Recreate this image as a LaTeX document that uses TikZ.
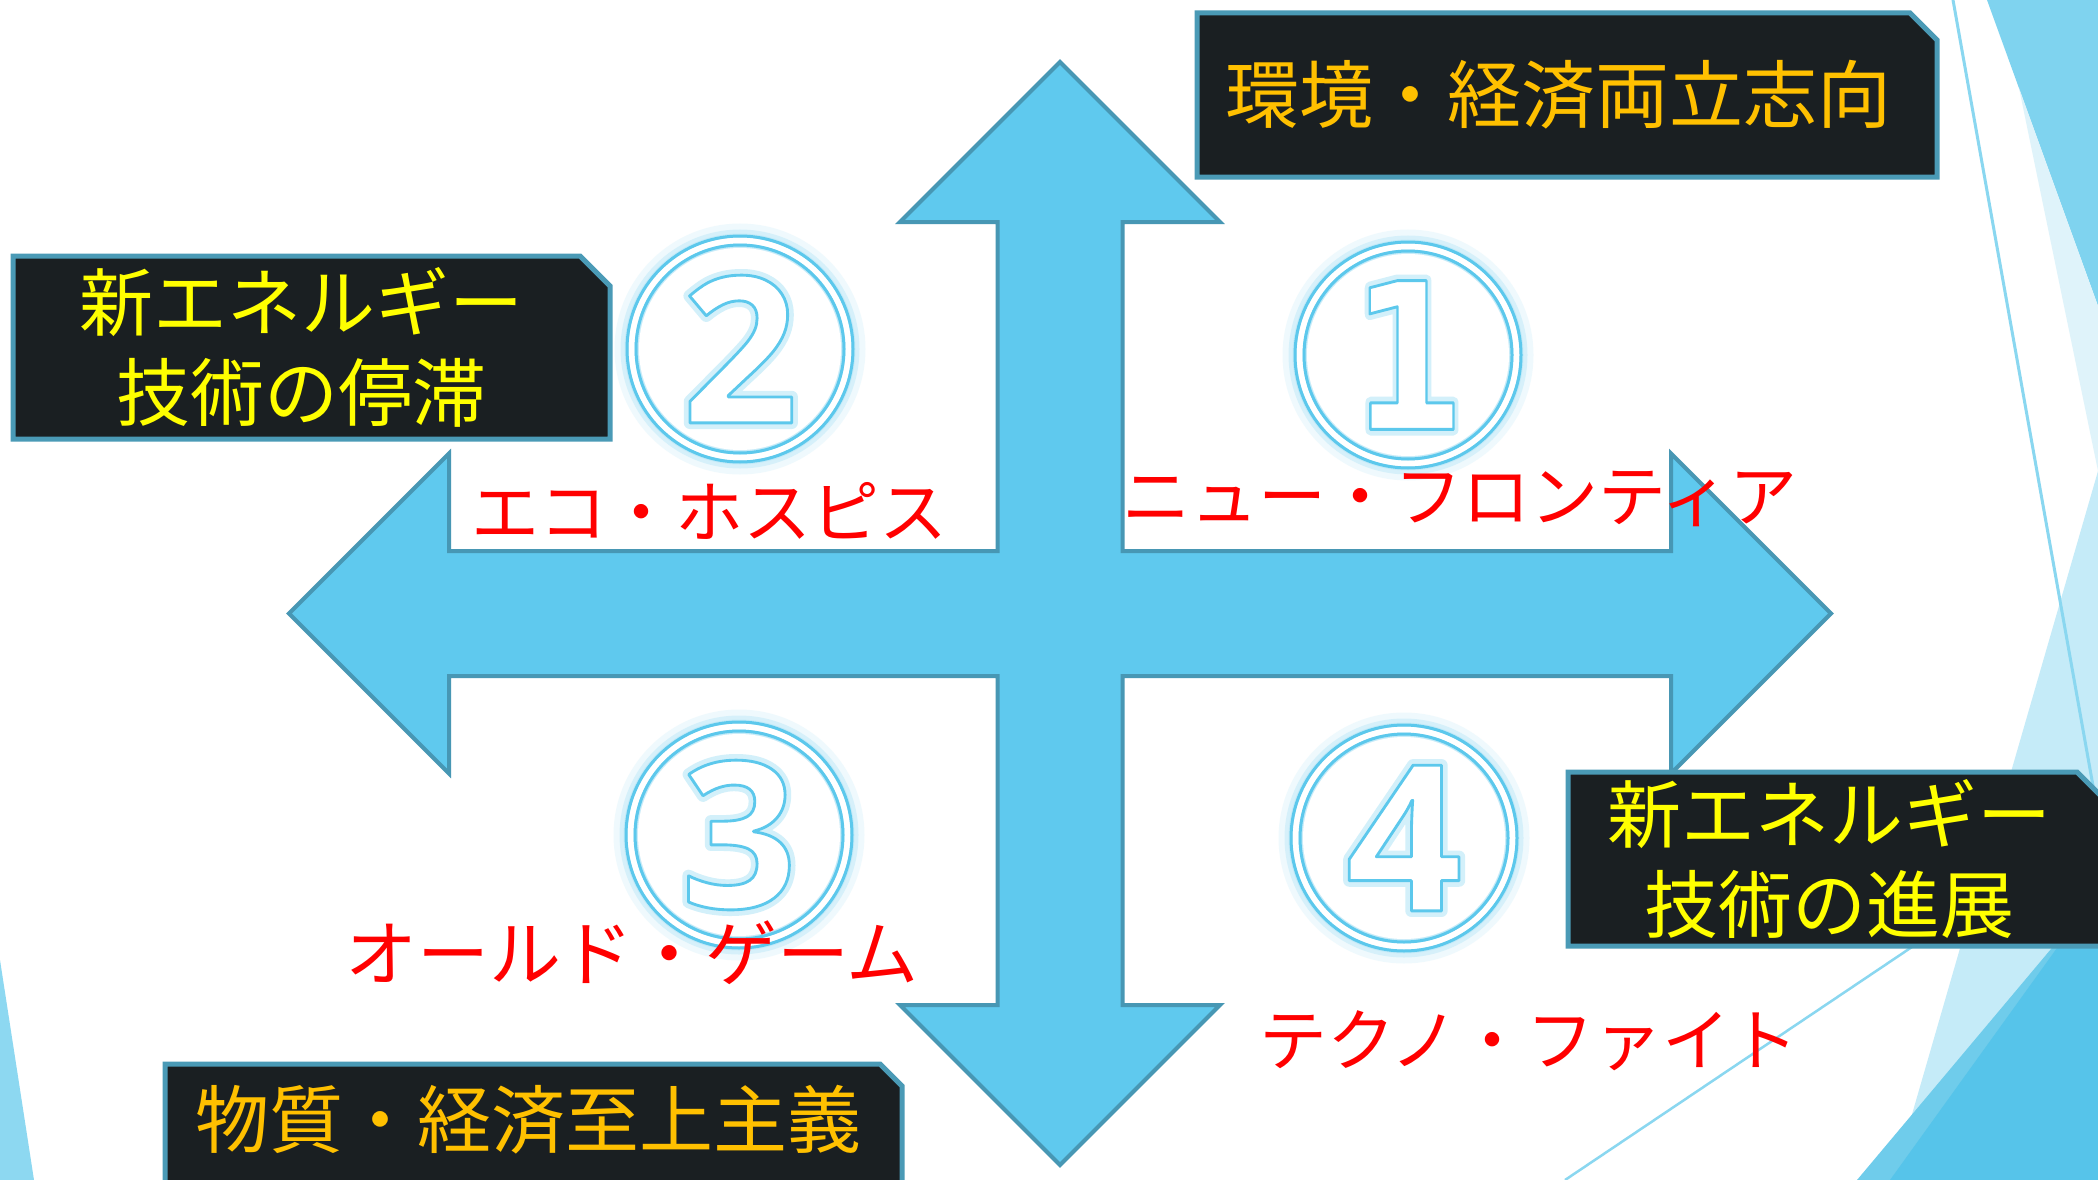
\documentclass[tikz,border=0pt]{standalone}
\usepackage{fontspec}
\usepackage{graphicx}
\newfontfamily\jpfont{Noto Sans CJK JP}
\newfontfamily\dgAo{Open Sans}[FakeBold=6]
\newfontfamily\dgAm{Open Sans}[FakeBold=1.4]
\newfontfamily\dgBo{DejaVu Sans}[FakeBold=6]
\newfontfamily\dgBm{DejaVu Sans}[FakeBold=1.4]
\newcommand\roundjoin{\special{pdf:code 1 j 1 J}}
\newcommand\bluestroke{\special{pdf:code 0.361 0.784 0.925 RG 1 j 1 J}}
\definecolor{arrowfill}{HTML}{5FC9EE}
\definecolor{arrowline}{HTML}{4797B4}
\definecolor{boxfill}{HTML}{1A1F22}
\definecolor{boxline}{HTML}{4A9AB6}
\definecolor{orangetxt}{HTML}{FFC000}
\definecolor{yellowtxt}{HTML}{FFFF00}
\definecolor{redtxt}{HTML}{FF0000}
\definecolor{ringc}{HTML}{5CC8EC}
\definecolor{glowc}{HTML}{A8E2F6}
\definecolor{glowpale}{HTML}{D3F0FA}
\definecolor{bgmid}{HTML}{7FD3EF}
\definecolor{bgpale}{HTML}{DFF3FA}
\definecolor{bglight}{HTML}{C5EBF8}
\definecolor{bgdark}{HTML}{56C4EA}
\definecolor{bgmed}{HTML}{6FCCEB}
\definecolor{bgline}{HTML}{8AD7F0}
\definecolor{bgleft}{HTML}{8DD8F1}
\begin{document}
\begin{tikzpicture}[x=1pt,y=-1pt,
  darkbox/.style={fill=boxfill, draw=boxline, line width=5pt, line join=miter},
  boxtxt/.style={font=\jpfont\fontsize{74}{90}\selectfont, align=center, inner sep=0pt},
  redlabel/.style={font=\jpfont\fontsize{68}{80}\selectfont, text=redtxt, inner sep=0pt},
  digitnode/.style={inner sep=0pt}]
\useasboundingbox (0,0) rectangle (2098,1180);
\begin{scope}
\clip (0,0) rectangle (2098,1180);
\fill[white] (0,0) rectangle (2098,1180);
% background decorations
\fill[bgmid] (1987,0) -- (2098,0) -- (2098,306) -- cycle;
\fill[bgpale] (2019,88) -- (2098,306) -- (2098,471) -- cycle;
\fill[bglight] (2098,471) -- (1893,1180) -- (2098,1180) -- cycle;
\fill[bgmed] (1857,1180) -- (2098,893) -- (2098,1180) -- cycle;
\fill[bgdark] (1890,1180) -- (2098,891) -- (2098,1180) -- cycle;
\draw[bgline, line width=3pt] (1953,0) -- (2098,814);
\draw[bgline, line width=2.5pt] (1565,1180) -- (2098,822);
\fill[bgleft] (0,960) -- (34,1180) -- (0,1180) -- cycle;
% four-way arrow
\draw[fill=arrowfill, draw=arrowline, line width=4pt, line join=miter]
  (1060,62) -- (1220,222) -- (1122.5,222) -- (1122.5,551) -- (1671,551)
  -- (1671,453.5) -- (1831,613.5) -- (1671,773.5) -- (1671,676)
  -- (1122.5,676) -- (1122.5,1005) -- (1220,1005) -- (1060,1165)
  -- (900,1005) -- (997.5,1005) -- (997.5,676) -- (449,676)
  -- (449,773.5) -- (289,613.5) -- (449,453.5) -- (449,551)
  -- (997.5,551) -- (997.5,222) -- (900,222) -- cycle;
% dark boxes
\draw[darkbox] (1197,13) -- (1910,13) -- (1937,40) -- (1937,177) -- (1197,177) -- cycle;
\draw[darkbox] (13,256) -- (580,256) -- (610,286) -- (610,439) -- (13,439) -- cycle;
\draw[darkbox] (1568,772) -- (2077,772) -- (2107,802) -- (2107,946) -- (1568,946) -- cycle;
\draw[darkbox] (165,1064) -- (880,1064) -- (902,1086) -- (902,1200) -- (165,1200) -- cycle;
\node[boxtxt, text=orangetxt] (tr) at (1558,95) {環境・経済両立志向};
\node[boxtxt, text=yellowtxt] (tl) at (301,347) {新エネルギー\\技術の停滞};
\node[boxtxt, text=yellowtxt] (brx) at (1829,859) {新エネルギー\\技術の進展};
\node[boxtxt, text=orangetxt] (bl) at (528,1120) {物質・経済至上主義};
% circled numbers
\foreach \nm/\cx/\cy/\d/\fo/\fm/\sx in {c1/1408/355/1/\dgBo/\dgBm/0.8, c2/740/349/2/\dgAo/\dgAm/1, c3/739/835/3/\dgAo/\dgAm/1, c4/1404/838/4/\dgAo/\dgAm/1}{
  \coordinate (\nm) at (\cx,\cy);
  \draw[glowpale, line width=34pt, opacity=0.35] (\nm) circle (108.5);
  \draw[glowc, line width=22pt, opacity=0.35] (\nm) circle (108.5);
  \draw[glowc, line width=14pt, opacity=0.4] (\nm) circle (108.5);
  \fill[white] (\nm) circle (101);
  \fill[white, even odd rule] (\nm) circle (111.5) (\nm) circle (105.5);
  \draw[ringc, line width=3pt] (\nm) circle (113);
  \draw[ringc, line width=3pt] (\nm) circle (104);
  \node[digitnode] (\nm g) at (\nm) {\scalebox{\sx}[1]{\fo\bfseries\fontsize{204}{204}\selectfont\color{glowpale}\roundjoin\d}};
  \node[digitnode] (\nm d) at (\nm) {\scalebox{\sx}[1]{\fm\bfseries\fontsize{204}{204}\selectfont\color{white}\bluestroke\d}};
}
% red scenario labels
\node[redlabel] (eco) at (709,511) {エコ・ホスピス};
\node[redlabel] (nf) at (1460,499) {ニュー・フロンティア};
\node[redlabel, font=\jpfont\fontsize{72}{80}\selectfont] (og) at (632,953) {オールド・ゲーム};
\node[redlabel] (tf) at (1529,1041) {テクノ・ファイト};
\end{scope}
\end{tikzpicture}
\end{document}
